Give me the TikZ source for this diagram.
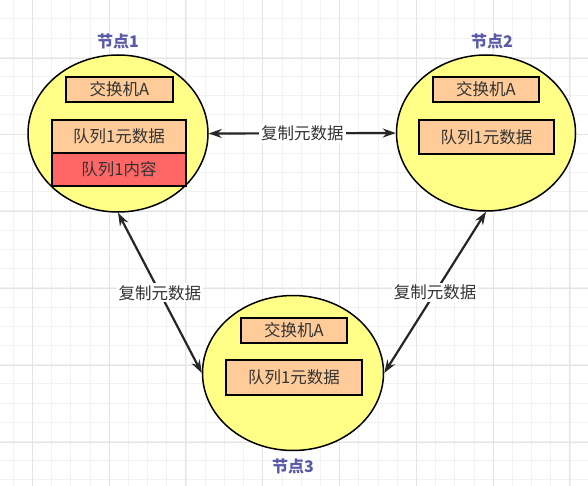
\documentclass[tikz,border=0pt]{standalone}
\usepackage{fontspec}
\setmainfont{Noto Sans CJK SC}
\usetikzlibrary{shapes.geometric,arrows.meta}
\definecolor{nodeyellow}{HTML}{FFFF88}
\definecolor{boxorange}{HTML}{FFCC99}
\definecolor{boxred}{HTML}{FF6666}
\definecolor{titleblue}{RGB}{90,90,170}
\definecolor{textgray}{HTML}{333333}
\definecolor{gridminor}{HTML}{F2F2F2}
\definecolor{gridmajor}{HTML}{E4E4E4}

\begin{document}
\begin{tikzpicture}[x=1pt, y=-1pt,
		brokernode/.style={ellipse, draw=black, line width=1.5pt, fill=nodeyellow, inner sep=0pt},
		infobox/.style={rectangle, draw=black, line width=1.5pt, fill=boxorange, inner sep=0pt, text=textgray, font=\fontsize{16.5}{19}\selectfont},
		nodetitle/.style={text=titleblue, font=\bfseries\fontsize{16}{19}\selectfont},
		syncline/.style={{Stealth[length=13pt,width=9pt]}-{Stealth[length=13pt,width=9pt]}, line width=2.2pt, draw=black!85},
		synclabel/.style={fill=white, inner sep=2pt, text=textgray, font=\fontsize{16.5}{19}\selectfont}]
		%%%%% START %%%%%
		
		\useasboundingbox[fill=white] (0, 0) rectangle (588, 486);
		
		% grid
		\foreach \i in {0,...,30} \draw[gridminor, line width=0.6pt] ({13+19.2*\i}, 0) -- ({13+19.2*\i}, 486);
		\foreach \i in {0,...,24} \draw[gridminor, line width=0.6pt] (0, {18.8+19.2*\i}) -- (588, {18.8+19.2*\i});
		\foreach \i in {0,...,7} \draw[gridmajor, line width=0.6pt] ({32+76.8*\i}, 0) -- ({32+76.8*\i}, 486);
		\foreach \i in {0,...,5} \draw[gridmajor, line width=0.6pt] (0, {442-76.8*\i}) -- (588, {442-76.8*\i});
		
		% nodes
		\node[brokernode, minimum width=180pt, minimum height=157pt] (node1) at (118, 133.5) {};
		\node[brokernode, minimum width=179pt, minimum height=156pt] (node2) at (486, 133) {};
		\node[brokernode, minimum width=181pt, minimum height=155pt] (node3) at (293, 373) {};
		
		\node[nodetitle] (title1) at (118, 41) {节点1};
		\node[nodetitle] (title2) at (492, 41) {节点2};
		\node[nodetitle] (title3) at (293, 466) {节点3};
		
		% node 1
		\node[infobox, minimum width=107pt, minimum height=25pt] (exch1) at (119.5, 89.5) {交换机A};
		\node[infobox, minimum width=134pt, minimum height=33pt] (meta1) at (119, 136.5) {队列1元数据};
		\node[infobox, fill=boxred, minimum width=134pt, minimum height=33pt] (content1) at (119, 169.5) {队列1内容};
		
		% node 2
		\node[infobox, minimum width=106pt, minimum height=25pt] (exch2) at (486, 89.5) {交换机A};
		\node[infobox, minimum width=135pt, minimum height=34pt] (meta2) at (486.5, 137) {队列1元数据};
		
		% node 3
		\node[infobox, minimum width=106pt, minimum height=25pt] (exch3) at (294, 330.5) {交换机A};
		\node[infobox, minimum width=136pt, minimum height=35pt] (meta3) at (294, 377.5) {队列1元数据};
		
		% replication
		\draw[syncline] (node1.east) -- node[synclabel] {复制元数据} (node2.west);
		\draw[syncline] (node1.south) -- node[synclabel] {复制元数据} (node3.west);
		\draw[syncline] (node2.south) -- node[synclabel] {复制元数据} (node3.east);
		
		%%%%% END %%%%%
\end{tikzpicture}
\end{document}
